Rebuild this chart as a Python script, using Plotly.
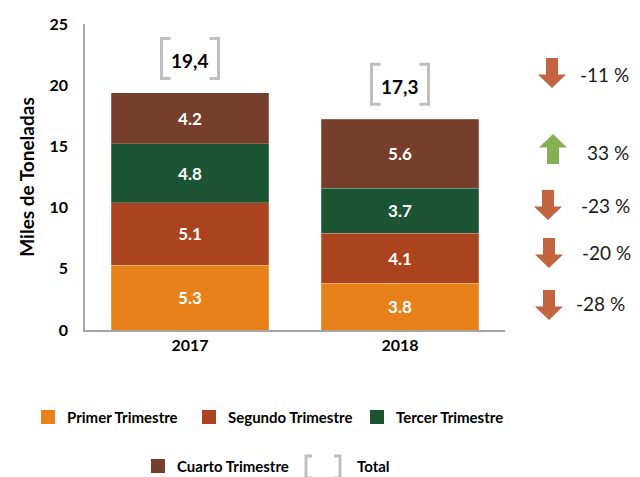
import plotly.graph_objects as go

years = ["2017", "2018"]
primer = [5.3, 3.8]
segundo = [5.1, 4.1]
tercer = [4.8, 3.7]
cuarto = [4.2, 5.6]
totals = [19.4, 17.3]

series_names = ["Primer Trimestre", "Segundo Trimestre", "Tercer Trimestre", "Cuarto Trimestre"]
series_colors = ["#E8811A", "#AB441E", "#1C5533", "#753F2B"]

# variation 2018 vs 2017, top to bottom as shown on the right
changes = [-11, 33, -23, -20, -28]

FONT = "Lato"
GRAY = "#BFBFBF"

# page body adds an 8px margin and the visible width ends at ~632px
W, H, OFF = 640, 477, 8
VIS_W = 632
PLOT_L, PLOT_R, PLOT_T, PLOT_B = 85, 505, 24, 330  # plot area in page pixels

fig = go.Figure()
for name, vals, col in zip(series_names, [primer, segundo, tercer, cuarto], series_colors):
    fig.add_trace(go.Bar(
        x=years, y=vals, name=name,
        marker=dict(color=col, line=dict(color="rgba(255,255,255,0.35)", width=0.6)),
        texttemplate="%{y:.1f}", textposition="inside", insidetextanchor="middle",
        textfont=dict(family=FONT, size=17, color="white", weight="bold"),
        showlegend=False, hoverinfo="skip"
    ))


def bracket_path(w, h, stub, cy=0):
    a, t, b = w / 2, cy + h / 2, cy - h / 2
    return (f"M {-a + stub},{t} L {-a},{t} L {-a},{b} L {-a + stub},{b} "
            f"M {a - stub},{t} L {a},{t} L {a},{b} L {a - stub},{b}")


# total labels with gray bracket frames (pixel offsets above the bar total)
for i, tot in enumerate(totals):
    fig.add_shape(type="path", xref="x", yref="y", xsizemode="pixel", ysizemode="pixel",
                  xanchor=i, yanchor=tot, path=bracket_path(57, 40, 9, 34),
                  line=dict(color=GRAY, width=3))
    fig.add_annotation(x=i, y=tot, yshift=32, text="<b>" + f"{tot:.1f}".replace(".", ",") + "</b>",
                       showarrow=False, xanchor="center", yanchor="middle",
                       font=dict(family=FONT, size=19, color="black"))


def arrow_path(w, h, s, up=False):
    hh = h * 0.45
    t, bt = h / 2, -h / 2
    pts = [(-s / 2, t), (s / 2, t), (s / 2, bt + hh), (w / 2, bt + hh), (0, bt),
           (-w / 2, bt + hh), (-s / 2, bt + hh)]
    if up:
        pts = [(x, -y) for x, y in pts]
    return "M " + " L ".join(f"{x:.1f},{y:.1f}" for x, y in pts) + " Z"


def px_x(p):
    return (p - PLOT_L) / (PLOT_R - PLOT_L)


def px_y(p):
    return (PLOT_B - p) / (PLOT_B - PLOT_T)


arrow_pos = [(552, 73, 604, 75), (553, 149, 608, 152), (548, 205, 605, 205),
             (549, 253, 606, 252), (549, 305, 600, 303)]
for ch, (ax, ay, tx, ty) in zip(changes, arrow_pos):
    up = ch > 0
    fig.add_shape(type="path", xref="paper", yref="paper", xsizemode="pixel", ysizemode="pixel",
                  xanchor=px_x(ax), yanchor=px_y(ay), path=arrow_path(28, 30, 12, up),
                  fillcolor="#86AE52" if up else "#C2643F", line=dict(width=0))
    fig.add_annotation(xref="paper", yref="paper", x=px_x(tx), y=px_y(ty), text=f"{ch} %",
                       showarrow=False, xanchor="center", yanchor="middle",
                       font=dict(family=FONT, size=19, color="#1a1a1a"))

# legend drawn by hand (two centred rows)
legend_items = [(41, 417, 0), (202, 417, 1), (370, 417, 2), (151, 466, 3)]
for lx, ly, i in legend_items:
    fig.add_shape(type="rect", xref="paper", yref="paper", xsizemode="pixel", ysizemode="pixel",
                  xanchor=px_x(lx + 7), yanchor=px_y(ly), x0=-7, x1=7, y0=-7, y1=7,
                  fillcolor=series_colors[i], line=dict(width=0))
    fig.add_annotation(xref="paper", yref="paper", x=px_x(lx + 24), y=px_y(ly),
                       xanchor="left", yanchor="middle",
                       text=f"<b>{series_names[i]}</b>", showarrow=False,
                       font=dict(family=FONT, size=15, color="black"))
fig.add_shape(type="path", xref="paper", yref="paper", xsizemode="pixel", ysizemode="pixel",
              xanchor=px_x(323), yanchor=px_y(467), path=bracket_path(34, 22, 6),
              line=dict(color=GRAY, width=3))
fig.add_annotation(xref="paper", yref="paper", x=px_x(355), y=px_y(466),
                   xanchor="left", yanchor="middle",
                   text="<b>Total</b>", showarrow=False, font=dict(family=FONT, size=15, color="black"))

fig.update_layout(
    barmode="stack", bargap=0.25,
    width=VIS_W - OFF, height=H - OFF,
    margin=dict(l=PLOT_L - OFF, r=VIS_W - PLOT_R, t=PLOT_T - OFF, b=H - PLOT_B, autoexpand=False),
    plot_bgcolor="white", paper_bgcolor="white",
    font=dict(family=FONT, color="black"),
)
fig.update_xaxes(type="category", range=[-0.5, 1.5], showline=True, linecolor="#A6A6A6", linewidth=1.5,
                 ticks="", tickfont=dict(family=FONT, size=16, weight="bold"), showgrid=False)
fig.update_yaxes(range=[0, 25], dtick=5, showline=True, linecolor="#A6A6A6", linewidth=1.5,
                 showgrid=False, zeroline=False, ticks="", ticklabelstandoff=12,
                 tickfont=dict(family=FONT, size=16, weight="bold"),
                 title=dict(text="<b>Miles de Toneladas</b>", font=dict(family=FONT, size=19), standoff=10))

fig.write_html("out.html")
